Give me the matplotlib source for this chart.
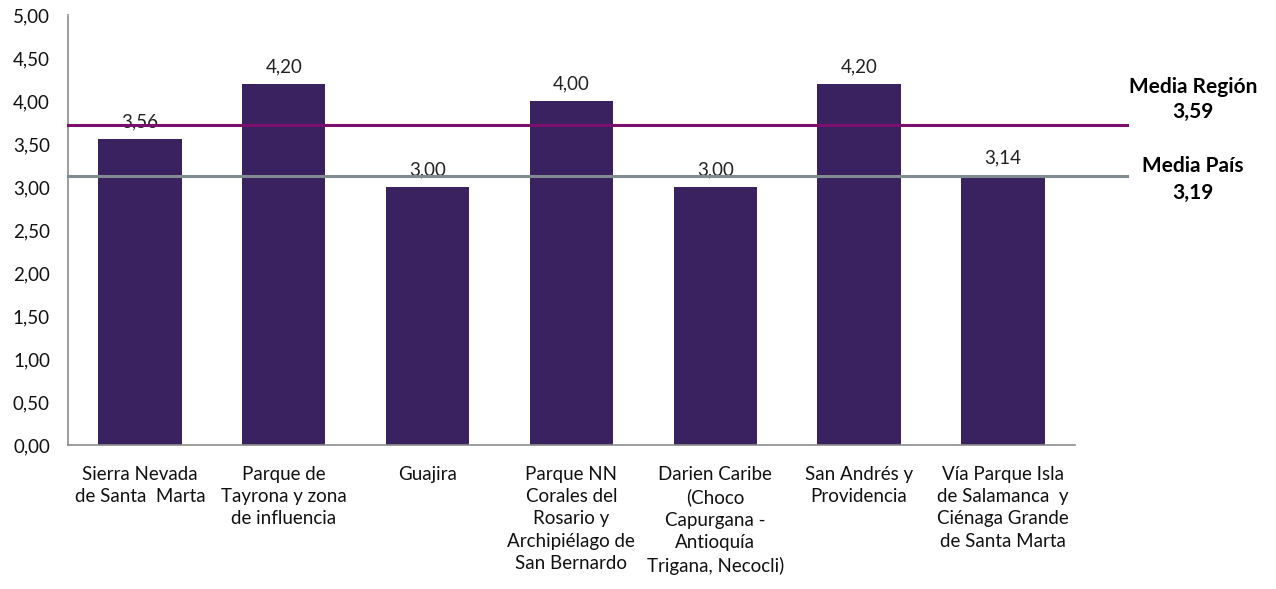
import matplotlib
matplotlib.use("Agg")
import matplotlib.pyplot as plt

# Datos
categorias = [
    "Sierra Nevada\nde Santa  Marta",
    "Parque de\nTayrona y zona\nde influencia",
    "Guajira",
    "Parque NN\nCorales del\nRosario y\nArchipiélago de\nSan Bernardo",
    "Darien Caribe\n(Choco\nCapurgana -\nAntioquía\nTrigana, Necocli)",
    "San Andrés y\nProvidencia",
    "Vía Parque Isla\nde Salamanca  y\nCiénaga Grande\nde Santa Marta",
]
valores = [3.56, 4.20, 3.00, 4.00, 3.00, 4.20, 3.14]

# Líneas de referencia (posición dibujada y etiqueta mostrada)
media_region_linea = 3.72
media_region_texto = "3,59"
media_pais_linea = 3.13
media_pais_texto = "3,19"

color_barra = "#3a2160"
color_region = "#7a0f6e"
color_pais = "#808b90"

plt.rcParams['font.family'] = ['Lato', 'DejaVu Sans']

fig = plt.figure(figsize=(12.76, 5.89), dpi=100)
ax = fig.add_axes([0.0533, 0.2445, 0.789, 0.730])

x = range(len(valores))
ax.bar(x, valores, width=0.58, color=color_barra, zorder=2)

for xi, v in zip(x, valores):
    ax.annotate(f"{v:.2f}".replace(".", ","), (xi, v), xytext=(0, 6),
                textcoords="offset points", ha="center", va="bottom",
                fontsize=13.5, color="#222222", zorder=1)

ax.plot([-0.5, 6.86], [media_region_linea] * 2, color=color_region, lw=2.2,
        clip_on=False, zorder=3)
ax.plot([-0.5, 6.86], [media_pais_linea] * 2, color=color_pais, lw=2.2,
        clip_on=False, zorder=3)

ax.set_xlim(-0.5, len(valores) - 0.5)
ax.set_ylim(0, 5)
ax.set_yticks([i * 0.5 for i in range(11)])
ax.set_yticklabels([f"{i * 0.5:.2f}".replace(".", ",") for i in range(11)], fontsize=13.5)
ax.set_xticks(list(x))
ax.set_xticklabels(categorias, fontsize=13.5, linespacing=1.38, va="top")
ax.tick_params(axis="both", length=0, colors="#111111")
ax.tick_params(axis="x", pad=15)
ax.tick_params(axis="y", pad=13)

for s in ["top", "right"]:
    ax.spines[s].set_visible(False)
for s in ["left", "bottom"]:
    ax.spines[s].set_color("#8c8c8c")
    ax.spines[s].set_linewidth(1.2)

fig.text(0.935, 0.852, "Media Región", ha="center", va="center",
         fontsize=15, fontweight="bold")
fig.text(0.935, 0.810, media_region_texto, ha="center", va="center",
         fontsize=15, fontweight="bold")
fig.text(0.935, 0.718, "Media País", ha="center", va="center",
         fontsize=15, fontweight="bold")
fig.text(0.935, 0.672, media_pais_texto, ha="center", va="center",
         fontsize=15, fontweight="bold")

fig.savefig("out.png", dpi=100)
